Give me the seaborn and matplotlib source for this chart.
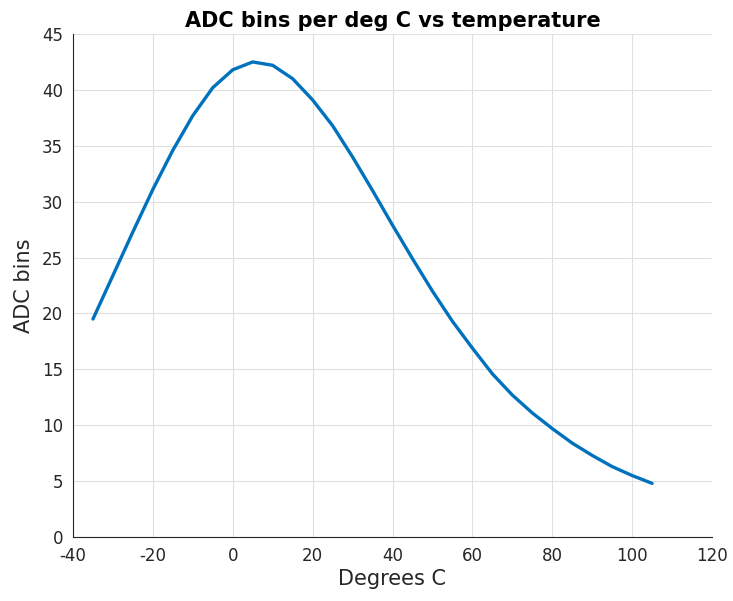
import matplotlib
matplotlib.use("Agg")
import matplotlib.pyplot as plt
import seaborn as sns
import pandas as pd

temps = [-35, -30, -25, -20, -15, -10, -5, 0, 5, 10, 15, 20, 25, 30, 35,
         40, 45, 50, 55, 60, 65, 70, 75, 80, 85, 90, 95, 100, 105]
adc_bins = [19.5, 23.4, 27.3, 31.1, 34.6, 37.7, 40.2, 41.8, 42.5, 42.2, 41.0,
            39.1, 36.8, 34.0, 31.0, 27.9, 24.9, 22.0, 19.3, 16.9, 14.6, 12.7,
            11.1, 9.7, 8.4, 7.3, 6.3, 5.5, 4.8]
x_ticks = [-40, -20, 0, 20, 40, 60, 80, 100, 120]
y_ticks = [0, 5, 10, 15, 20, 25, 30, 35, 40, 45]

df = pd.DataFrame({"Degrees C": temps, "ADC bins": adc_bins})

sns.set_style("white")
plt.rcParams['font.family'] = ['DejaVu Sans']
plt.rcParams['axes.unicode_minus'] = False

fig = plt.figure(figsize=(7.33, 6.01), dpi=100)
ax = fig.add_axes([73/733, 64/601, (712-73)/733, (537-34)/601])

sns.lineplot(data=df, x="Degrees C", y="ADC bins", ax=ax, color="#0072BD", linewidth=2.4)

ax.set_xlim(-40, 120)
ax.set_ylim(0, 45)
ax.set_xticks(x_ticks)
ax.set_yticks(y_ticks)
ax.grid(True, color="#e0e0e0", linewidth=0.8)
ax.set_axisbelow(True)

for side in ["top", "right"]:
    ax.spines[side].set_visible(False)
for side in ["left", "bottom"]:
    ax.spines[side].set_color("#262626")
    ax.spines[side].set_linewidth(0.8)

ax.tick_params(direction="in", length=5, width=0.8, colors="#262626",
               labelsize=12, pad=7, labelcolor="#262626")
ax.set_xlabel("Degrees C", fontsize=15, color="#262626", labelpad=3)
ax.set_ylabel("ADC bins", fontsize=15, color="#262626", labelpad=6)
ax.set_title("ADC bins per deg C vs temperature", fontsize=15, fontweight="bold",
             color="black", pad=5)

fig.savefig("out.png", dpi=100)
